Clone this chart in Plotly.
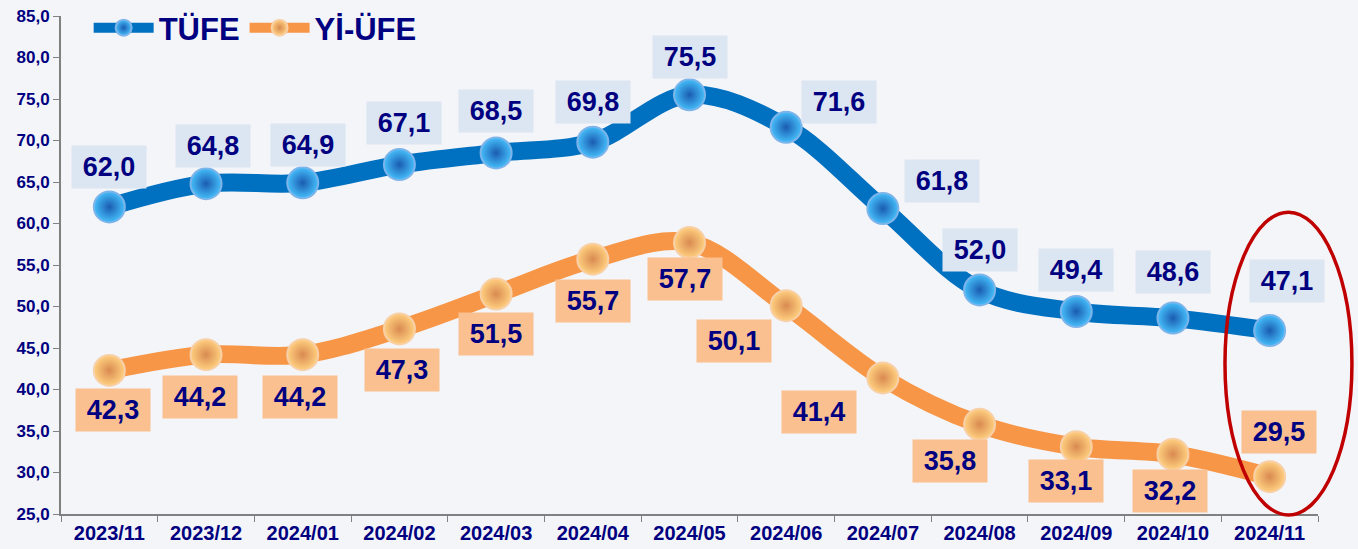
import plotly.graph_objects as go

months = ["2023/11", "2023/12", "2024/01", "2024/02", "2024/03", "2024/04", "2024/05",
          "2024/06", "2024/07", "2024/08", "2024/09", "2024/10", "2024/11"]
tufe = [62.0, 64.8, 64.9, 67.1, 68.5, 69.8, 75.5, 71.6, 61.8, 52.0, 49.4, 48.6, 47.1]
yiufe = [42.3, 44.2, 44.2, 47.3, 51.5, 55.7, 57.7, 50.1, 41.4, 35.8, 33.1, 32.2, 29.5]

# label offsets (pixels) relative to each point
tufe_off = [(0, 40), (7, 38), (5, 38), (5, 42), (0, 42), (0, 40), (0, 38),
            (53, 25), (59, 28), (0, 40), (0, 41), (0, 46), (17, 50)]
yiufe_off = [(4, -40), (-6, -42), (-3, -42), (3, -41), (0, -40), (0, -42), (-5, -36),
             (-52, -35), (-64, -34), (-30, -37), (-10, -34), (-3, -37), (9, 45)]

NAVY = "#000080"
FONT = "Liberation Sans"

fig = go.Figure()
fig.add_trace(go.Scatter(
    x=months, y=tufe, name="TÜFE", mode="lines+markers",
    line=dict(color="#0070C0", width=18, shape="spline", smoothing=1.0),
    marker=dict(size=31, color="#45BEFA",
                gradient=dict(type="radial", color="#1A5CB0"),
                line=dict(color="#7DB4EA", width=2)),
))
fig.add_trace(go.Scatter(
    x=months, y=yiufe, name="Yİ-ÜFE", mode="lines+markers",
    line=dict(color="#F79646", width=18, shape="spline", smoothing=1.0),
    marker=dict(size=31, color="#FFD080",
                gradient=dict(type="radial", color="#D98A50"),
                line=dict(color="#F8D0A8", width=2)),
))

def fmt(v):
    return f"{v:.1f}".replace(".", ",")

for i, m in enumerate(months):
    dx, dy = tufe_off[i]
    fig.add_annotation(x=m, y=tufe[i], text=fmt(tufe[i]), showarrow=False,
                       xshift=dx, yshift=dy, bgcolor="#DCE6F2", width=74, height=42,
                       borderpad=0,
                       font=dict(family=FONT, size=27, color=NAVY, weight="bold"))
    dx, dy = yiufe_off[i]
    fig.add_annotation(x=m, y=yiufe[i], text=fmt(yiufe[i]), showarrow=False,
                       xshift=dx, yshift=dy, bgcolor="#FAC090", width=74, height=42,
                       borderpad=0,
                       font=dict(family=FONT, size=27, color=NAVY, weight="bold"))

# highlight ellipse around last month (paper coords so it is not clipped)
fig.add_shape(type="circle", xref="paper", yref="paper",
              x0=0.926, x1=1.027, y0=-0.002, y1=0.606,
              line=dict(color="#C00000", width=3.5), fillcolor="rgba(0,0,0,0)")

fig.update_layout(
    width=1358, height=549,
    margin=dict(l=61, r=40, t=16, b=35, autoexpand=False),
    paper_bgcolor="#F4F5F9", plot_bgcolor="#F4F5F9",
    separators=",.",
    showlegend=True,
    legend=dict(orientation="h", x=0.022, y=1.03, xanchor="left", yanchor="top",
                bgcolor="rgba(0,0,0,0)",
                font=dict(family=FONT, size=31, color=NAVY, weight="bold"),
                itemwidth=60, tracegroupgap=0),
    font=dict(family=FONT, color=NAVY),
)
fig.update_yaxes(range=[25, 85], dtick=5, tickformat=".1f", showgrid=False,
                 showline=True, linecolor="#808080", linewidth=2,
                 ticks="outside", ticklen=6, tickcolor="#808080",
                 tickfont=dict(family=FONT, size=17, color=NAVY, weight="bold"),
                 zeroline=False, automargin=False)
fig.update_xaxes(showgrid=False, showline=True, linecolor="#808080", linewidth=2,
                 ticks="outside", ticklen=6, tickcolor="#808080", tickson="boundaries",
                 range=[-0.5, 12.5], automargin=False,
                 tickfont=dict(family=FONT, size=20, color=NAVY, weight="bold"))

fig.write_html("out.html", config={"displayModeBar": False},
               post_script="document.body.style.margin='0';document.body.style.padding='0';")
